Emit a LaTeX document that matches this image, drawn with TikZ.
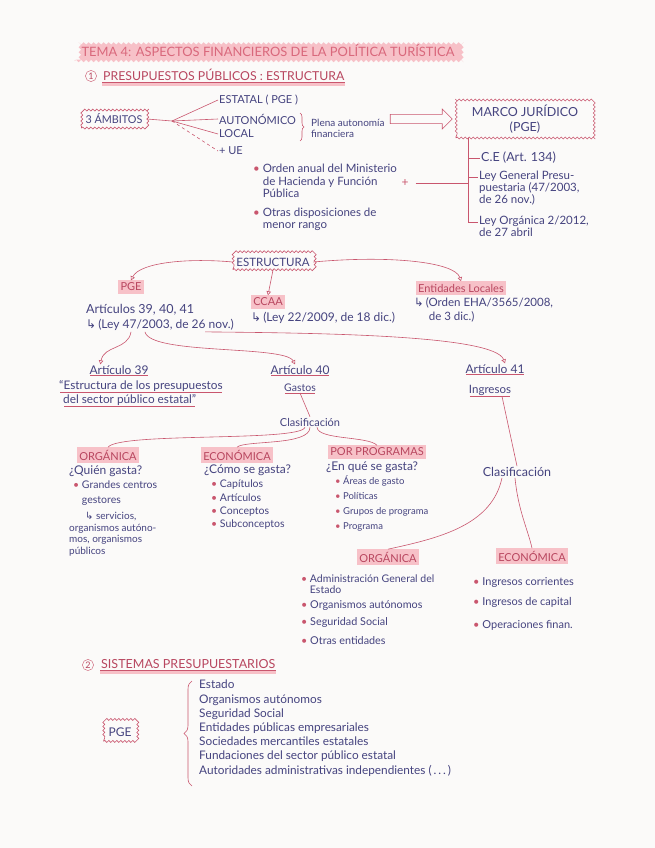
\documentclass[tikz,border=0pt]{standalone}
\usepackage{fontspec}
\setmainfont{Lato}
\newfontfamily\symfont{DejaVu Sans}
\usetikzlibrary{arrows.meta,positioning,calc,decorations.pathmorphing,
                decorations.pathreplacing,shapes.arrows}
\definecolor{ink}{HTML}{45437F}
\definecolor{rline}{HTML}{C9566E}
\definecolor{redink}{HTML}{B8465F}
\definecolor{hilite}{HTML}{F7C1C8}
\definecolor{titlered}{HTML}{D9687C}
\definecolor{paper}{HTML}{FBFAF9}
\newcommand{\bul}{{\color{rline}\textbullet}\ }
\newcommand{\arrhook}{{\symfont ↳}}
\newcommand{\fs}[1]{\fontsize{#1}{1.12\dimexpr#1pt\relax}\selectfont}

\begin{document}
\begin{tikzpicture}[x=1pt,y=-1pt,font=\fs{11},
    txt/.style={text=ink,inner sep=1pt,anchor=west,align=left},
    tag/.style={fill=hilite,text=redink,inner sep=2.5pt,font=\fs{11}},
    wavy/.style={draw=rline,line width=0.6pt,decorate,
                 decoration={snake,amplitude=1pt,segment length=4pt},
                 inner sep=4pt,text=ink},
    link/.style={draw=rline,line width=0.6pt},
    tip/.style={-{Triangle[open,length=4pt,width=4.5pt]}},
    uline/.style={draw=rline,line width=0.5pt},
    num/.style={circle,draw=rline,text=redink,inner sep=1pt,font=\fs{9}},
    head/.style={anchor=west,text=redink,inner sep=1pt,font=\fs{12.3}}]
  \fill[paper] (0,0) rectangle (655,848);

  % title and section 1
  \node[fill=hilite,text=titlered,inner xsep=7pt,inner ysep=4pt,decorate,
        decoration={snake,amplitude=1.2pt,segment length=5pt},
        font=\fs{12.9}] (title) at (268,51)
        {TEMA 4: ASPECTOS FINANCIEROS DE LA POLÍTICA TURÍSTICA};
  \node[num] (n1) at (91,76) {1};
  \node[head] (sec1) at (102,75) {PRESUPUESTOS PÚBLICOS : ESTRUCTURA};
  \draw[hilite,line width=4pt] ([yshift=-2pt]sec1.south west) -- ([yshift=-2pt]sec1.south east);
  \draw[uline] (sec1.south west) -- (sec1.south east);

  % ambitos
  \node[wavy,font=\fs{10.8}] (amb) at (114,119) {3 ÁMBITOS};
  \coordinate (hub) at (172,121);
  \node[txt,font=\fs{11}] (estatal) at (218,100) {ESTATAL ( PGE )};
  \node[txt,font=\fs{11}] (auton) at (218,119) {AUTONÓMICO};
  \node[txt,font=\fs{11}] (local) at (218,134) {LOCAL};
  \node[txt,font=\fs{11}] (ue) at (218,151) {+ UE};
  \draw[link] (amb.east) -- (hub);
  \draw[link] (hub) -- (estatal.west);
  \draw[link] (hub) -- (auton.west);
  \draw[link] (hub) -- (local.west);
  \draw[link,dashed] (hub) -- (ue.west);
  \draw[link,decorate,decoration={brace,amplitude=4pt}] (300,113) -- (300,141);
  \node[txt,font=\fontsize{10}{11}\selectfont] (plena) at (310,128) {Plena autonomía\\financiera};

  % marco juridico
  \node[wavy,align=center,font=\fontsize{12.5}{15}\selectfont,minimum width=138pt,
        minimum height=38pt] (marco) at (525,119) {MARCO JURÍDICO\\(PGE)};
  \node[single arrow,draw=rline,line width=0.6pt,minimum height=62pt,minimum width=20pt,
        single arrow head extend=5pt,inner sep=4pt,left=3pt of marco] (big) {};
  \coordinate (mj) at ([xshift=13pt]marco.south west);
  \node[txt,font=\fs{12.5}] (ce) at (480,158) {C.E (Art. 134)};
  \node[txt,anchor=north west,font=\fontsize{11.5}{12}\selectfont] (lgp) at (478,170) {Ley General Presu-\\puestaria (47/2003,\\de 26 nov.)};
  \node[txt,anchor=north west,font=\fontsize{11.5}{12}\selectfont] (lo) at (478,215) {Ley Orgánica 2/2012,\\de 27 abril};
  \draw[link] (mj) |- ($(lo.north west)+(0,7)$);
  \draw[link] (mj) |- (ce.west);
  \draw[link] (mj) |- ($(lgp.north west)+(0,7)$);
  \node[txt,anchor=north west,font=\fontsize{11.5}{12.5}\selectfont] (orden) at (252,163) {\bul Orden anual del Ministerio\\\phantom{\bul}de Hacienda y Función\\\phantom{\bul}Pública};
  \node[txt,anchor=north west,font=\fontsize{11.5}{12}\selectfont] (otras) at (252,207) {\bul Otras disposiciones de\\\phantom{\bul}menor rango};
  \node[text=rline,inner sep=1pt,font=\large] (plus) at (405,183) {+};
  \draw[link] ([xshift=6pt]plus.east) -- (plus.east -| mj);

  % estructura
  \node[wavy,font=\fs{11.5},inner sep=3.5pt] (est) at (273,262) {ESTRUCTURA};
  \node[tag] (pge) at (131,287) {PGE};
  \node[tag] (ccaa) at (268,302) {CCAA};
  \node[tag] (eell) at (461,288) {Entidades Locales};
  \draw[link,tip] (est.west) .. controls (190,258) and (140,262) .. (pge.north);
  \draw[link,tip] (est.south) -- (ccaa.north);
  \draw[link,tip] (est.east) .. controls (390,255) and (455,262) .. (eell.north);
  \node[txt,font=\fs{12.5}] (arts) at (85,310) {Artículos 39, 40, 41};
  \node[txt,font=\fs{12}] (ley47) at (85,325) {\arrhook\,(Ley 47/2003, de 26 nov.)};
  \node[txt,font=\fs{12}] (ley22) at (250,318) {\arrhook\,(Ley 22/2009, de 18 dic.)};
  \node[txt,anchor=north west,font=\fontsize{11.5}{14}\selectfont] (orden2) at (413,296) {\arrhook\,(Orden EHA/3565/2008,\\\phantom{\arrhook\,(}de 3 dic.)};

  % articulos
  \node[txt,anchor=center,font=\fs{12}] (a39) at (119,370) {Artículo 39};
  \node[txt,anchor=center,font=\fs{12}] (a40) at (300,370) {Artículo 40};
  \node[txt,anchor=center,font=\fs{12}] (a41) at (495,369) {Artículo 41};
  \draw[link,tip] ([xshift=46pt]ley47.south west) .. controls (128,350) and (104,345) .. ([xshift=12pt]a39.north west);
  \draw[link,tip] ([xshift=60pt]ley47.south west) .. controls (150,355) and (285,345) .. ([xshift=-5pt]a40.north);
  \draw[link,tip] ([xshift=-30pt]ley47.south east) .. controls (320,333) and (495,335) .. ([xshift=10pt]a41.north);
  \node[txt,font=\fs{11.8}] (q39a) at (58,386) {“Estructura de los presupuestos};
  \node[txt,font=\fs{11.8}] (q39b) at (62,400) {del sector público estatal”};

  % gastos
  \node[txt,anchor=center,font=\fs{10.5}] (gas) at (300,388) {Gastos};
  \node[txt,anchor=center] (clas1) at (310,422) {Clasificación};
  \foreach \n in {a39,a40,a41,q39a,q39b,gas}
    \draw[uline] ([xshift=2pt]\n.south west) -- ([xshift=-2pt]\n.south east);
  \draw[link] (gas.south) -- (clas1.north);
  \node[tag] (go) at (108,455) {ORGÁNICA};
  \node[tag] (ge) at (237,455) {ECONÓMICA};
  \node[tag] (gp) at (377,452) {POR PROGRAMAS};
  \draw[link] ([xshift=-5pt]clas1.south) .. controls (300,442) and (120,432) .. (go.north);
  \draw[link] (clas1.south) .. controls (310,446) and (245,440) .. (ge.north);
  \draw[link] ([xshift=7pt]clas1.south) .. controls (318,440) and (368,436) .. (gp.north);
  \node[txt,font=\fs{12}] (quien) at (68,471) {¿Quién gasta?};
  \node[txt,anchor=north west,font=\fontsize{10.5}{15}\selectfont] (gcg) at (72,480) {\bul Grandes centros\\\phantom{\bul}gestores};
  \node[txt,anchor=north west,font=\fontsize{10}{11.5}\selectfont] (serv) at (68,511) {\hspace{16pt}\arrhook\ servicios,\\organismos autóno-\\mos, organismos\\públicos};
  \node[txt,font=\fs{12}] (como) at (203,470) {¿Cómo se gasta?};
  \node[txt,anchor=north west,font=\fontsize{10.5}{13.3}\selectfont] (ecl) at (210,479) {\bul Capítulos\\\bul Artículos\\\bul Conceptos\\\bul Subconceptos};
  \node[txt,font=\fs{12}] (enque) at (325,467) {¿En qué se gasta?};
  \node[txt,anchor=north west,font=\fontsize{9.5}{15}\selectfont] (pgl) at (334,474) {\bul Áreas de gasto\\\bul Políticas\\\bul Grupos de programa\\\bul Programa};

  % ingresos
  \node[txt,anchor=center,font=\fs{11.5}] (ing) at (490,390) {Ingresos};
  \draw[uline] ([xshift=2pt]ing.south west) -- ([xshift=-2pt]ing.south east);
  \node[txt,anchor=center,font=\fs{12.5}] (clas2) at (517,472) {Clasificación};
  \draw[link] ([xshift=12pt]ing.south) -- (clas2.north);
  \node[tag] (io) at (388,557) {ORGÁNICA};
  \node[tag] (ie) at (532,556) {ECONÓMICA};
  \draw[link] ([xshift=-15pt]clas2.south) .. controls (492,525) and (440,538) .. (io.north);
  \draw[link] ([xshift=-2pt]clas2.south) .. controls (518,510) and (528,530) .. (ie.north);
  \node[txt,anchor=north west,font=\fontsize{10.5}{11}\selectfont] (adm) at (300,574) {\bul Administración General del\\\phantom{\bul}Estado};
  \node[txt,font=\fs{10.8}] (oa) at (300,606) {\bul Organismos autónomos};
  \node[txt,font=\fs{10.8}] (ss) at (300,623) {\bul Seguridad Social};
  \node[txt,font=\fs{10.8}] (oe) at (300,641) {\bul Otras entidades};
  \node[txt] (icor) at (472,582) {\bul Ingresos corrientes};
  \node[txt] (icap) at (472,602) {\bul Ingresos de capital};
  \node[txt] (opf) at (472,625) {\bul Operaciones finan.};

  % section 2
  \node[num] (n2) at (88,665) {2};
  \node[head,font=\fs{12.5}] (sec2) at (100,664) {SISTEMAS PRESUPUESTARIOS};
  \draw[hilite,line width=4pt] ([yshift=-2pt]sec2.south west) -- ([yshift=-2pt]sec2.south east);
  \draw[uline] (sec2.south west) -- (sec2.south east);
  \node[wavy,inner sep=5pt,font=\fs{12}] (pge2) at (120,732) {PGE};
  \draw[link,decorate,decoration={brace,amplitude=8pt}] (192,786) -- (192,681);
  \node[txt,anchor=north west,font=\fontsize{11.8}{14.2}\selectfont] (sist) at (198,679)
    {Estado\\Organismos autónomos\\Seguridad Social\\Entidades públicas empresariales\\
     Sociedades mercantiles estatales\\Fundaciones del sector público estatal\\
     Autoridades administrativas independientes (\,.\,.\,.\,)};
\end{tikzpicture}
\end{document}
